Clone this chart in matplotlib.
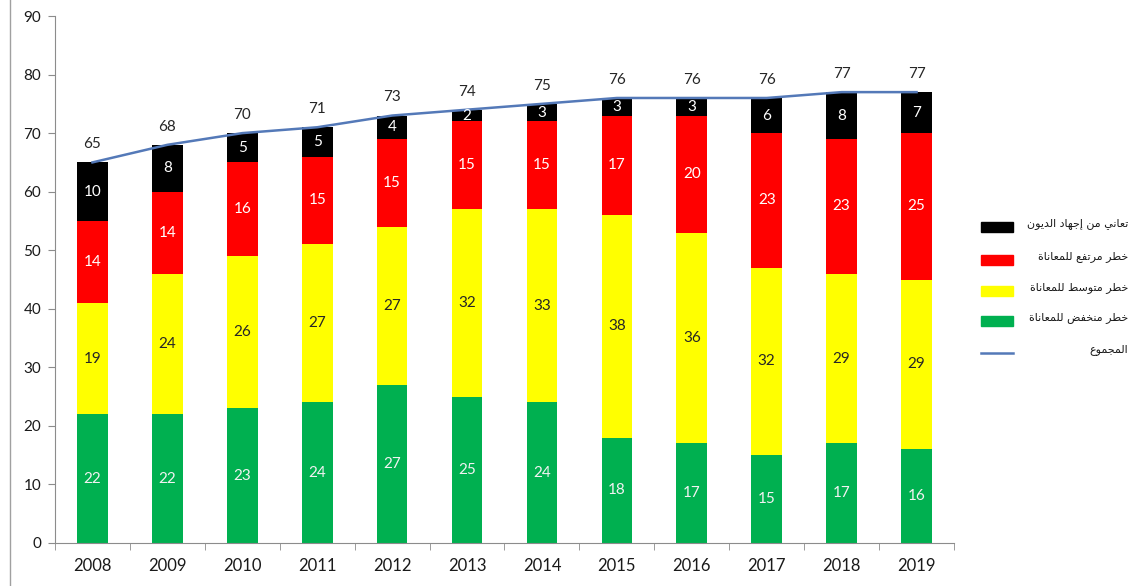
import matplotlib
matplotlib.use("Agg")
import matplotlib.pyplot as plt
import numpy as np
from matplotlib.patches import Rectangle
from matplotlib.lines import Line2D

# Data
years = ["2008", "2009", "2010", "2011", "2012", "2013", "2014",
         "2015", "2016", "2017", "2018", "2019"]
low_risk = [22, 22, 23, 24, 27, 25, 24, 18, 17, 15, 17, 16]
moderate_risk = [19, 24, 26, 27, 27, 32, 33, 38, 36, 32, 29, 29]
high_risk = [14, 14, 16, 15, 15, 15, 15, 17, 20, 23, 23, 25]
in_distress = [10, 8, 5, 5, 4, 2, 3, 3, 3, 6, 8, 7]
totals = [65, 68, 70, 71, 73, 74, 75, 76, 76, 76, 77, 77]

legend_labels = [
    "تعاني من إجهاد الديون",
    "خطر مرتفع للمعاناة",
    "خطر متوسط للمعاناة",
    "خطر منخفض للمعاناة",
    "المجموع",
]

# Arabic presentation forms: (isolated, final, initial, medial); 2-tuples only join right
FORMS = {
    "ا": ("\uFE8D", "\uFE8E"), "إ": ("\uFE87", "\uFE88"),
    "ة": ("\uFE93", "\uFE94"), "د": ("\uFEA9", "\uFEAA"),
    "ر": ("\uFEAD", "\uFEAE"), "و": ("\uFEED", "\uFEEE"),
    "ت": ("\uFE95", "\uFE96", "\uFE97", "\uFE98"),
    "ج": ("\uFE9D", "\uFE9E", "\uFE9F", "\uFEA0"),
    "خ": ("\uFEA5", "\uFEA6", "\uFEA7", "\uFEA8"),
    "س": ("\uFEB1", "\uFEB2", "\uFEB3", "\uFEB4"),
    "ض": ("\uFEBD", "\uFEBE", "\uFEBF", "\uFEC0"),
    "ط": ("\uFEC1", "\uFEC2", "\uFEC3", "\uFEC4"),
    "ع": ("\uFEC9", "\uFECA", "\uFECB", "\uFECC"),
    "ف": ("\uFED1", "\uFED2", "\uFED3", "\uFED4"),
    "ق": ("\uFED5", "\uFED6", "\uFED7", "\uFED8"),
    "ل": ("\uFEDD", "\uFEDE", "\uFEDF", "\uFEE0"),
    "م": ("\uFEE1", "\uFEE2", "\uFEE3", "\uFEE4"),
    "ن": ("\uFEE5", "\uFEE6", "\uFEE7", "\uFEE8"),
    "ه": ("\uFEE9", "\uFEEA", "\uFEEB", "\uFEEC"),
    "ي": ("\uFEF1", "\uFEF2", "\uFEF3", "\uFEF4"),
}


def shape_arabic(text: str) -> str:
    """Join Arabic letters and reverse them for left-to-right drawing."""
    out = []
    for i, ch in enumerate(text):
        forms = FORMS.get(ch)
        if forms is None:
            out.append(ch)
            continue
        prev = text[i - 1] if i > 0 else ""
        nxt = text[i + 1] if i + 1 < len(text) else ""
        joins_prev = prev in FORMS and len(FORMS[prev]) == 4
        joins_next = len(forms) == 4 and nxt in FORMS
        if joins_prev and joins_next:
            out.append(forms[3])
        elif joins_prev:
            out.append(forms[1])
        elif joins_next:
            out.append(forms[2])
        else:
            out.append(forms[0])
    return "".join(reversed(out))


plt.rcParams["font.family"] = ["Lato", "DejaVu Sans"]

colors = {"low": "#00B050", "mod": "#FFFF00", "high": "#FF0000",
          "dist": "#000000", "line": "#5479B8"}

W, H = 1135, 586
fig = plt.figure(figsize=(W / 100, H / 100), dpi=100)
ax = fig.add_axes([55 / W, 43 / H, 899 / W, 527 / H])

x = np.arange(len(years))
width = 0.41
series = [
    (low_risk, colors["low"], "#F2F2F2"),
    (moderate_risk, colors["mod"], "#262626"),
    (high_risk, colors["high"], "white"),
    (in_distress, colors["dist"], "white"),
]
bottom = np.zeros(len(years))
for values, color, txt_color in series:
    vals = np.array(values)
    ax.bar(x, vals, width, bottom=bottom, color=color, zorder=2)
    for xi, b, v in zip(x, bottom, vals):
        ax.text(xi, b + v / 2, str(v), ha="center", va="center",
                color=txt_color, fontsize=11, zorder=4)
    bottom = bottom + vals

ax.plot(x, totals, color=colors["line"], lw=1.8, zorder=3)
for xi, t in zip(x, totals):
    ax.annotate(str(t), (xi, t), xytext=(0, 8), textcoords="offset points",
                ha="center", va="bottom", fontsize=11, color="#262626")

ax.set_xlim(-0.5, len(years) - 0.5)
ax.set_ylim(0, 90)
ax.set_yticks(range(0, 91, 10))
ax.set_xticks(x)
ax.set_xticklabels(years)
ax.set_xticks(np.arange(-0.5, len(years), 1), minor=True)
ax.tick_params(axis="x", which="major", length=0, pad=11, labelsize=12,
               labelcolor="#1a1a1a")
ax.tick_params(axis="x", which="minor", length=5, color="#8c8c8c")
ax.tick_params(axis="y", length=5, color="#8c8c8c", labelsize=11,
               labelcolor="#1a1a1a", pad=5)
for side in ["top", "right"]:
    ax.spines[side].set_visible(False)
for side in ["left", "bottom"]:
    ax.spines[side].set_color("#8c8c8c")

# legend drawn by hand to match the reference placement
handles = [
    ("rect", colors["dist"], 227),
    ("rect", colors["high"], 260),
    ("rect", colors["mod"], 291),
    ("rect", colors["low"], 321),
    ("line", colors["line"], 353),
]
for (kind, color, ypix), label in zip(handles, legend_labels):
    if kind == "rect":
        fig.add_artist(Rectangle((981 / W, 1 - (ypix + 5) / H), 32 / W, 10 / H,
                                 transform=fig.transFigure, color=color))
    else:
        fig.add_artist(Line2D([981 / W, 1013 / W], [1 - ypix / H] * 2,
                              transform=fig.transFigure, color=color, lw=1.8))
    fig.text(1128 / W, 1 - (ypix - 3) / H, shape_arabic(label), ha="right",
             va="center", fontsize=8, family="DejaVu Sans", color="#1a1a1a")

# thin frame line on the left edge as in the reference
fig.add_artist(Line2D([10 / W, 10 / W], [0, 1], transform=fig.transFigure,
                      color="#a0a0a0", lw=1))

fig.savefig("out.png", dpi=100)
